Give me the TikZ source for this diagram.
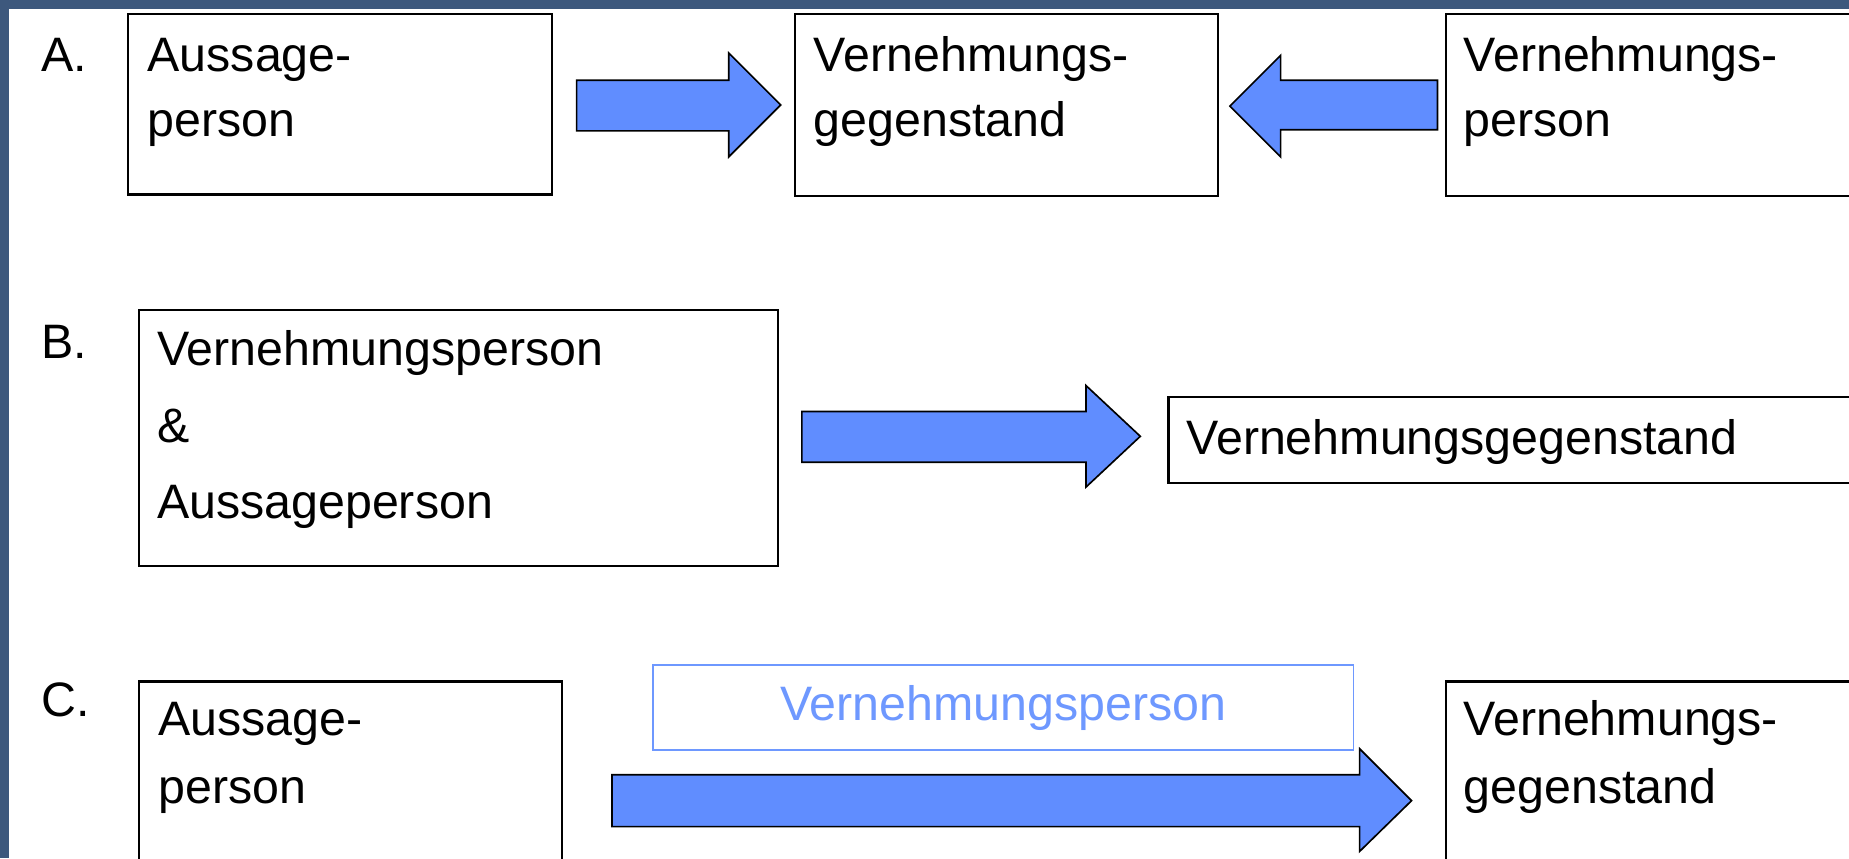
\documentclass[tikz,border=0pt]{standalone}
\usepackage{fontspec}
\setmainfont{Liberation Sans}
\definecolor{framecol}{RGB}{61,88,125}
\definecolor{arrowblue}{RGB}{96,141,255}
\definecolor{lightblue}{RGB}{110,152,255}
\begin{document}
\begin{tikzpicture}[x=1pt,y=-1pt,
  box/.style={draw=black, line width=1.8pt, fill=white, anchor=north west, inner sep=0pt},
  bluebox/.style={draw=lightblue, line width=1.6pt, fill=white, anchor=north west, inner sep=0pt},
  lbl/.style={anchor=base west, inner sep=0pt, font=\fontsize{41}{48}\selectfont},
  blockarrow/.style={draw=black, line width=1.4pt, fill=arrowblue, line join=miter}]
\useasboundingbox (0,0) rectangle (1568,728);
\clip (0,0) rectangle (1568,728);
\fill[framecol] (0,0) rectangle (1568,728);
\fill[white] (8,8) rectangle (1600,760);

% boxes
\node[box, minimum width=359pt, minimum height=153pt] (a1) at (108,11) {};
\node[box, minimum width=359pt, minimum height=154pt] (a2) at (673,11) {};
\node[box, minimum width=400pt, minimum height=154pt] (a3) at (1225,11) {};
\node[box, minimum width=542pt, minimum height=217pt] (b1) at (117,262) {};
\node[box, minimum width=650pt, minimum height=73pt] (b2) at (990,336) {};
\node[box, minimum width=359pt, minimum height=200pt] (c1) at (117,577) {};
\node[box, minimum width=400pt, minimum height=200pt] (c2) at (1225,577) {};
\node[bluebox, minimum width=594pt, minimum height=72pt] (vp) at (553,563) {};

% block arrows
\draw[blockarrow] (489,68) -- (618,68) -- (618,45) -- (662,89) -- (618,133) -- (618,111) -- (489,111) -- cycle;
\draw[blockarrow] (1219,68) -- (1086,68) -- (1086,47) -- (1043,90) -- (1086,133) -- (1086,110) -- (1219,110) -- cycle;
\draw[blockarrow] (680,349) -- (921,349) -- (921,327) -- (967,370) -- (921,413) -- (921,392) -- (680,392) -- cycle;
\draw[blockarrow] (519,657) -- (1153,657) -- (1153,635) -- (1197,679) -- (1153,722) -- (1153,701) -- (519,701) -- cycle;

% labels
\node[lbl] (la) at (35,61) {A.};
\node[lbl] (lb) at (35,304) {B.};
\node[lbl] (lc) at (35,608) {C.};

\node[lbl] (a1x) at (125,61) {Aussage-};
\node[lbl] (a1y) at (125,116) {person};
\node[lbl] (a2x) at (690,61) {Vernehmungs-};
\node[lbl] (a2y) at (690,116) {gegenstand};
\node[lbl] (a3x) at (1241,61) {Vernehmungs-};
\node[lbl] (a3y) at (1241,116) {person};

\node[lbl] (b1x) at (133,310) {Vernehmungsperson};
\node[lbl] (b1y) at (133,375) {\&};
\node[lbl] (b1z) at (133,440) {Aussageperson};
\node[lbl] (b2x) at (1006,385) {Vernehmungsgegenstand};

\node[lbl] (c1x) at (134,624) {Aussage-};
\node[lbl] (c1y) at (134,681) {person};
\node[lbl] (c2x) at (1241,624) {Vernehmungs-};
\node[lbl] (c2y) at (1241,681) {gegenstand};
\node[lbl, anchor=base, text=lightblue] (vpt) at (vp.center |- 0,611) {Vernehmungsperson};
\end{tikzpicture}
\end{document}
